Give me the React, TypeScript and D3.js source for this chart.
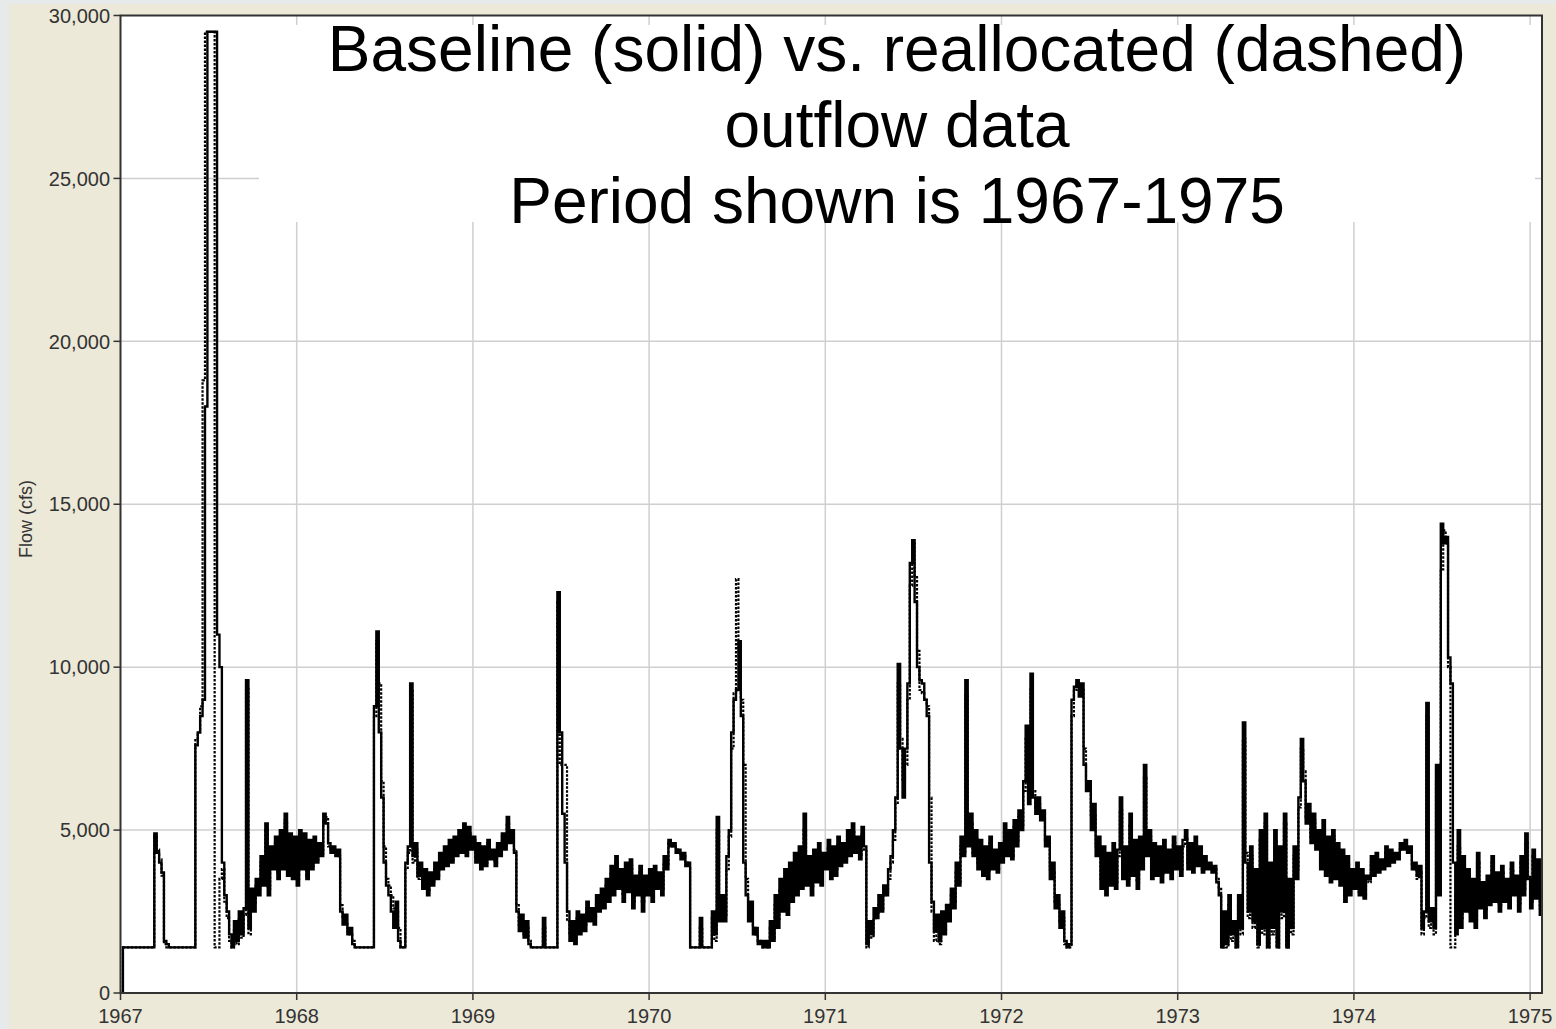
import React from "react";
import * as d3 from "d3";

// ---- data (5-day steps from Jan 1 of each year), flow in cfs ----
const yearStarts = [1967, 1968, 1969, 1970, 1971, 1972, 1973, 1974, 1975];

const base1967 = [
  0, 1400, 1400, 1400, 1400, 1400, 1400, 1400, 1400, 1400,
  1400, 1400, 1400, 1400, 4900, 4300, 4000, 3700, 1600, 1500,
  1400, 1400, 1400, 1400, 1400, 1400, 1400, 1400, 1400, 1400,
  1400, 7600, 8000, 8500, 9000, 18000, 29500, 29500, 29500, 29500,
  11000, 10000, 4000, 3000, 2500, 1800, 1400, 2200, 1600, 2500,
  1800, 2600, 9600, 2000, 3200, 2500, 3500, 3000, 4200, 3300,
  5200, 3000, 4500, 3800, 4800, 3500, 5000, 3800, 5500, 3600,
  4900, 3500, 4800,
];
const base1968 = [
  3300, 5000, 3800, 4900, 3500, 4700, 3800, 4800, 4000, 4600,
  4200, 5500, 5200, 4600, 4300, 4500, 4200, 4400, 2500, 2100,
  2400, 1800, 2000, 1500, 1400, 1400, 1400, 1400, 1400, 1400,
  1400, 1400, 8800, 11100, 8000, 6000, 4000, 3300, 3000, 2500,
  2000, 2800, 1600, 1400, 1400, 4000, 4500, 9500, 4200, 4600,
  3600, 4000, 3200, 3800, 3000, 3700, 3300, 4000, 3500, 4300,
  3800, 4500, 3900, 4700, 4000, 4800, 4200, 5000, 4300, 5200,
  4200, 5100, 4400,
];
const base1969 = [
  4800, 4000, 4600, 3800, 4500, 3900, 4700, 4100, 4400, 3900,
  4600, 4200, 4900, 4400, 5400, 4600, 5000, 4300, 2500, 1900,
  2400, 1700, 2200, 1500, 1400, 1400, 1400, 1400, 1400, 2300,
  1400, 1400, 1400, 1400, 1400, 12300, 8000, 5500, 4000, 2500,
  1600, 2200, 1500, 2500, 1800, 2400, 1900, 2800, 2200, 2600,
  2100, 3000, 2500, 3200, 2600, 3500, 2800, 3900, 3000, 4200,
  3200, 3800, 2800, 4000, 3100, 4100, 2600, 3600, 3000, 3900,
  2500, 3600, 3000,
];
const base1970 = [
  3800, 2800, 3900, 3200, 3700, 3000, 4200, 3800, 4700, 4500,
  4600, 4300, 4400, 4100, 4300, 3900, 4000, 1400, 1400, 1400,
  1400, 2300, 1400, 1400, 1400, 1400, 2500, 1800, 5400, 2200,
  3000, 2200, 4200, 5000, 8000, 9000, 9300, 10800, 8500, 4000,
  3000, 2200, 2800, 1800, 2000, 1500, 1600, 1400, 1600, 1400,
  2200, 1600, 3000, 2000, 3500, 2500, 3800, 2400, 4000, 2800,
  4300, 3000, 4500, 3200, 5500, 3300, 4200, 3000, 4400, 3400,
  4600, 3300, 4300,
];
const base1971 = [
  3800, 4700, 3500, 4500, 3600, 4800, 3900, 4600, 4000, 5000,
  4200, 5200, 4300, 4800, 4100, 5100, 4500, 1500, 2200, 1800,
  2600, 2300, 3000, 2500, 3300, 3000, 3800, 4200, 5000, 6000,
  10100, 7500, 6000, 7500, 9500, 13200, 13900, 12000, 10000, 9600,
  9500, 9000, 8500, 4000, 2800, 1900, 2400, 1600, 2500, 1800,
  2700, 2200, 3200, 2600, 4000, 3300, 4800, 4200, 9600, 4500,
  5500, 4200, 5000, 3800, 4700, 3600, 4500, 3500, 4800, 3800,
  4400, 3700, 4600,
];
const base1972 = [
  4000, 5200, 4200, 5000, 4100, 5300, 4500, 5600, 5000, 6500,
  8200, 5800, 9800, 6000, 5500, 6000, 5300, 5600, 4500, 4800,
  3500, 4000, 2600, 3000, 2000, 2500, 1600, 1400, 1500, 9000,
  9400, 9600, 9100, 9500, 7000, 6200, 6500, 5000, 5800, 4200,
  4800, 3200, 4500, 3000, 4300, 3300, 4600, 3200, 4400, 6000,
  3500, 4500, 3300, 5500, 3600, 4700, 3200, 4800, 3800, 7000,
  4200, 5000, 3500, 4600, 3600, 4500, 3400, 4700, 3700, 4400,
  3500, 4800, 3800,
];
const base1973 = [
  4500, 3600, 4700, 5000, 3800, 4600, 3700, 4800, 3900, 4500,
  3700, 4200, 3800, 4000, 3700, 3900, 3400, 3000, 1400, 2500,
  1500, 3000, 1800, 2200, 1400, 3000, 2000, 8300, 4000, 2500,
  4500, 2200, 3800, 1500, 5000, 2000, 5500, 1400, 4000, 2000,
  5000, 1400, 4500, 2500, 5500, 1400, 3500, 2000, 4500, 3500,
  6000, 7800, 6500, 5200, 5800, 4600, 5500, 4400, 5000, 3800,
  5300, 3600, 4800, 3400, 5000, 3500, 4600, 3300, 4400, 2800,
  4200, 3000, 3800,
];
const base1974 = [
  3200, 4000, 3000, 3800, 2900, 3600, 3500, 4200, 3600, 4300,
  3700, 4100, 3800, 4500, 3900, 4400, 4000, 4300, 4100, 4600,
  4400, 4700, 4300, 4500, 3800, 4000, 3600, 3900, 2000, 2500,
  8900, 2200, 2600, 2000, 7000, 3000, 14400, 13800, 14000, 10300,
  9500, 4000, 1800, 5000, 2000, 4200, 2500, 3800, 2200, 3500,
  2000, 4300, 2600, 3400, 2300, 3600, 2700, 4200, 2800, 3700,
  2500, 3900, 2800, 3500, 2600, 4000, 3000, 3600, 2500, 4200,
  3000, 4900, 3500,
];
const base1975 = [2600, 4400, 2900, 4100, 2400, 3000];

const realloc1967 = [
  0, 1400, 1400, 1400, 1400, 1400, 1400, 1400, 1400, 1400,
  1400, 1400, 1400, 1400, 4800, 4400, 4100, 3600, 1500, 1400,
  1400, 1400, 1400, 1400, 1400, 1400, 1400, 1400, 1400, 1400,
  1400, 7800, 8000, 8800, 18800, 29500, 29500, 29500, 29500, 1400,
  1400, 3500, 3800, 2800, 2300, 1600, 1400, 2000, 1500, 2300,
  1700, 2400, 9400, 1800, 3000, 2700, 3300, 3200, 4000, 3500,
  5000, 3200, 4300, 3900, 4600, 3700, 4800, 3900, 5300, 3800,
  4700, 3600, 4600,
];
const realloc1968 = [
  3500, 4800, 3900, 4700, 3600, 4500, 3900, 4600, 4100, 4500,
  4300, 5300, 5400, 4500, 4400, 4300, 4300, 4200, 2700, 2300,
  2200, 1900, 1800, 1600, 1400, 1400, 1400, 1400, 1400, 1400,
  1400, 1400, 8500, 10800, 9500, 6500, 4500, 3500, 3300, 3000,
  2600, 2500, 2000, 1400, 1400, 3800, 4300, 9300, 4000, 4400,
  3500, 3800, 3400, 3500, 3100, 3500, 3400, 3800, 3600, 4100,
  3900, 4300, 4000, 4500, 4100, 4600, 4300, 4800, 4400, 5000,
  4300, 4900, 4500,
];
const realloc1969 = [
  4700, 4100, 4500, 3900, 4400, 4000, 4600, 4200, 4300, 4000,
  4500, 4300, 4800, 4500, 5200, 4700, 4900, 4400, 2700, 2100,
  2200, 1800, 2000, 1600, 1400, 1400, 1400, 1400, 1400, 2000,
  1400, 1400, 1400, 1400, 1400, 12000, 7000, 7000, 7000, 2200,
  1800, 2000, 1700, 2300, 2000, 2300, 2100, 2600, 2400, 2500,
  2300, 2800, 2700, 3000, 2800, 3300, 3000, 3700, 3200, 4000,
  3400, 3600, 3000, 3800, 3300, 3900, 2800, 3500, 3200, 3700,
  2800, 3400, 3200,
];
const realloc1970 = [
  3600, 3000, 3700, 3300, 3600, 3200, 4000, 3900, 4600, 4500,
  4500, 4400, 4300, 4200, 4200, 4000, 3900, 1400, 1400, 1400,
  1400, 2000, 1400, 1400, 1400, 1400, 2300, 1600, 5000, 2400,
  2800, 2400, 3800, 4800, 7500, 9200, 12700, 10500, 9000, 7000,
  3500, 2600, 2500, 2000, 1800, 1600, 1500, 1400, 1500, 1400,
  2000, 1700, 2700, 2200, 3200, 2700, 3500, 2600, 3800, 3000,
  4000, 3200, 4200, 3400, 5000, 3500, 4000, 3200, 4200, 3500,
  4400, 3400, 4100,
];
const realloc1971 = [
  3900, 4500, 3700, 4400, 3800, 4600, 4000, 4500, 4100, 4800,
  4300, 5000, 4400, 4700, 4200, 4900, 4400, 1400, 1900, 1700,
  2300, 2400, 2700, 2600, 3000, 3100, 3500, 4000, 4700, 5800,
  9500, 7800, 6500, 7000, 9000, 12500, 13800, 12800, 10500, 9300,
  9200, 9000, 8800, 6000, 2500, 1600, 2000, 1500, 2200, 1900,
  2500, 2300, 3000, 2800, 3700, 3400, 4500, 4300, 9200, 4600,
  5200, 4300, 4800, 4000, 4500, 3800, 4300, 3700, 4600, 3900,
  4200, 3800, 4400,
];
const realloc1972 = [
  4100, 5000, 4300, 4800, 4200, 5100, 4600, 5400, 5100, 6200,
  7800, 6000, 9400, 6200, 5700, 5800, 5500, 5400, 4700, 4600,
  3800, 3700, 2800, 2800, 2200, 2300, 1500, 1400, 1400, 8500,
  9300, 9500, 9300, 9300, 7500, 6500, 6200, 5400, 5500, 4500,
  4500, 3500, 4200, 3300, 4000, 3500, 4300, 3400, 4200, 5600,
  3700, 4300, 3500, 5200, 3800, 4500, 3400, 4600, 4000, 6600,
  4400, 4800, 3700, 4400, 3800, 4300, 3600, 4500, 3800, 4200,
  3700, 4600, 3900,
];
const realloc1973 = [
  4300, 3800, 4500, 4800, 4000, 4400, 3900, 4600, 4000, 4300,
  3800, 4000, 3900, 3900, 3800, 3800, 3500, 3200, 1400, 2200,
  1400, 2700, 1600, 2000, 1400, 2700, 1800, 7800, 4300, 2300,
  4200, 2000, 3500, 1400, 4700, 1800, 5200, 1400, 3700, 1800,
  4700, 1400, 4200, 2300, 5200, 1400, 3300, 1800, 4200, 3800,
  5700, 7500, 6800, 5400, 5500, 4800, 5300, 4600, 4800, 4000,
  5000, 3800, 4600, 3600, 4800, 3700, 4400, 3500, 4200, 3000,
  4000, 3200, 3600,
];
const realloc1974 = [
  3300, 3800, 3100, 3600, 3000, 3500, 3400, 4000, 3700, 4100,
  3800, 4000, 3900, 4300, 4000, 4300, 4100, 4200, 4200, 4400,
  4500, 4500, 4400, 4300, 3900, 3800, 3500, 3700, 1800, 2300,
  8500, 2000, 2400, 1800, 6500, 5000, 13000, 14200, 13800, 10000,
  1400, 1400, 3000, 4500, 2300, 4000, 2700, 3600, 2400, 3300,
  2200, 4000, 2800, 3200, 2500, 3400, 2900, 4000, 3000, 3500,
  2700, 3700, 3000, 3300, 2800, 3800, 3200, 3400, 2700, 4000,
  3200, 4600, 3600,
];
const realloc1975 = [2800, 4200, 3000, 3900, 2600, 3100];

const baselineByYear = [base1967, base1968, base1969, base1970, base1971, base1972, base1973, base1974, base1975];
const reallocByYear = [realloc1967, realloc1968, realloc1969, realloc1970, realloc1971, realloc1972, realloc1973, realloc1974, realloc1975];

const yTicks = [0, 5000, 10000, 15000, 20000, 25000, 30000];
const xTicks = [1967, 1968, 1969, 1970, 1971, 1972, 1973, 1974, 1975];
const titleLines = [
  "Baseline (solid) vs. reallocated (dashed)",
  "outflow data",
  "Period shown is 1967-1975",
];
const yAxisLabel = "Flow (cfs)";

type Pt = { t: number; v: number };
function toSeries(arrays: number[][]): Pt[] {
  const out: Pt[] = [];
  arrays.forEach((arr, k) => {
    arr.forEach((v, i) => out.push({ t: yearStarts[k] + (i * 5) / 365, v }));
  });
  return out;
}

const W = 1556;
const H = 1029;
const L = 120.5;
const R = 1542;
const T = 15.5;
const B = 993;
const FONT = "'Liberation Sans', Arial, Helvetica, sans-serif";

export default function App() {
  const x = d3.scaleLinear().domain([1967, 1975.0675]).range([L, R]);
  const y = d3.scaleLinear().domain([0, 30000]).range([B, T]);
  const line = d3
    .line<Pt>()
    .x((d) => x(d.t))
    .y((d) => y(d.v))
    .curve(d3.curveStepAfter);
  const basePath = line(toSeries(baselineByYear)) || "";
  const reallocPath = line(toSeries(reallocByYear)) || "";
  const fmt = d3.format(",");

  return (
    <svg
      width={W}
      height={H}
      style={{ position: "absolute", left: 0, top: 0, display: "block" }}
      fontFamily={FONT}
    >
      <defs>
        <clipPath id="plotClip">
          <rect x={L} y={T} width={R - L} height={B - T} />
        </clipPath>
      </defs>
      <rect x={0} y={0} width={W} height={H} fill="#e7eaea" />
      <rect x={9} y={4} width={W - 9} height={H - 4} fill="#ece9d8" />
      <rect x={L} y={T} width={R - L} height={B - T} fill="#ffffff" />
      {yTicks
        .filter((v) => v > 0 && v < 30000)
        .map((v) => (
          <line key={"gy" + v} x1={L} x2={R} y1={y(v)} y2={y(v)} stroke="#cfcfcf" strokeWidth={1.5} />
        ))}
      {xTicks
        .filter((t) => t > 1967)
        .map((t) => (
          <line key={"gx" + t} x1={x(t)} x2={x(t)} y1={T} y2={B} stroke="#cfcfcf" strokeWidth={1.5} />
        ))}
      <rect x={259} y={25} width={1276} height={197} fill="#ffffff" />
      <g clipPath="url(#plotClip)">
        <path d={basePath} fill="none" stroke="#000" strokeWidth={2.4} strokeLinejoin="miter" />
        <path d={reallocPath} fill="none" stroke="#000" strokeWidth={2.2} strokeDasharray="2.5,1.5" />
      </g>
      {titleLines.map((s, i) => (
        <text key={"t" + i} x={897} y={71 + i * 76} textAnchor="middle" fontSize={64} fill="#000">
          {s}
        </text>
      ))}
      <rect x={L} y={T} width={R - L} height={B - T} fill="none" stroke="#333" strokeWidth={2} />
      {yTicks.map((v) => (
        <g key={"yt" + v}>
          <line x1={L - 7} x2={L} y1={y(v)} y2={y(v)} stroke="#333" strokeWidth={1.5} />
          <text x={110} y={y(v)} dy="0.36em" textAnchor="end" fontSize={20} fill="#333">
            {fmt(v)}
          </text>
        </g>
      ))}
      {xTicks.map((t) => (
        <g key={"xt" + t}>
          <line x1={x(t)} x2={x(t)} y1={B} y2={B + 7} stroke="#333" strokeWidth={1.5} />
          <text x={x(t)} y={1023} textAnchor="middle" fontSize={20} fill="#333">
            {t}
          </text>
        </g>
      ))}
      <text
        transform={`translate(32,519) rotate(-90)`}
        textAnchor="middle"
        fontSize={18}
        fill="#333"
      >
        {yAxisLabel}
      </text>
    </svg>
  );
}
